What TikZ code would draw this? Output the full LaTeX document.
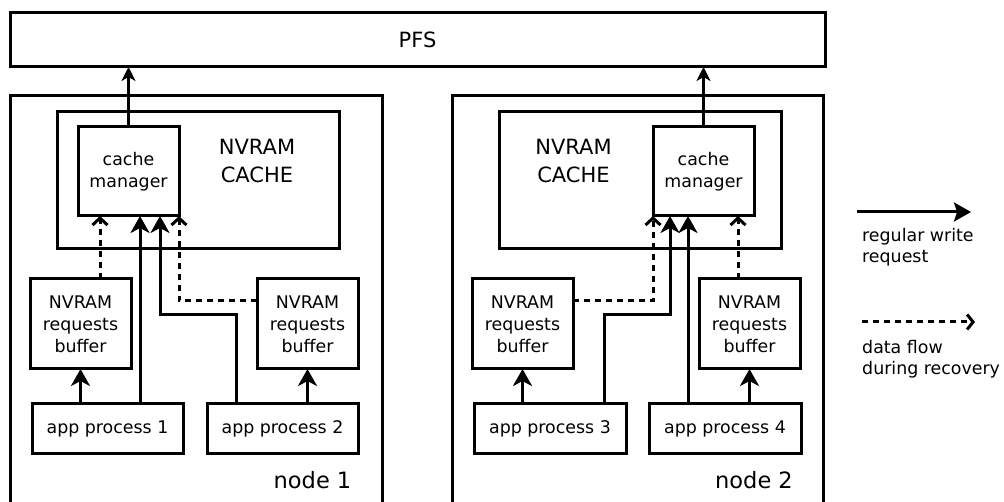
\documentclass[tikz,border=0pt]{standalone}
\usepackage{fontspec}
\setmainfont{DejaVu Sans}
\usetikzlibrary{arrows.meta}
\begin{document}
\begin{tikzpicture}[x=1pt,y=-1pt,
  box/.style={draw,line width=3pt,inner sep=0pt,outer sep=0pt,align=center,
    font=\fontsize{17.4}{22}\selectfont},
  bigbox/.style={draw,line width=3pt,inner sep=0pt,outer sep=0pt},
  solidarr/.style={line width=3pt,-{Stealth[length=17pt,width=19pt,inset=5pt]}},
  pfsarr/.style={line width=3pt,-{Stealth[length=14pt,width=14pt,inset=4pt]}},
  dasharr/.style={line width=3pt,dash pattern=on 6pt off 5pt,-{Straight Barb[length=7pt,width=15pt]}},
  lbl/.style={inner sep=0pt,font=\fontsize{17.4}{21}\selectfont,align=left}
]
\useasboundingbox (0,0) rectangle (1004,502);
\fill[white] (0,0) rectangle (1004,502);

% PFS
\node[box,minimum width=815pt,minimum height=54pt,font=\fontsize{21}{24}\selectfont] (pfs) at (417.5,40) {PFS};

% node frames (bottom edge out of view)
\node[bigbox,minimum width=372pt,minimum height=412pt] (n1) at (196,302) {};
\node[bigbox,minimum width=371pt,minimum height=412pt] (n2) at (637.5,302) {};
\node[inner sep=0pt,font=\fontsize{22.5}{26}\selectfont] (n1lbl) at (312.5,480) {node 1};
\node[inner sep=0pt,font=\fontsize{22.5}{26}\selectfont] (n2lbl) at (754,480) {node 2};

% NVRAM caches
\node[bigbox,minimum width=282pt,minimum height=137pt] (c1) at (198,180.5) {};
\node[bigbox,minimum width=282pt,minimum height=137pt] (c2) at (640,180.5) {};
\node[inner sep=0pt,align=center,font=\fontsize{21}{28}\selectfont] (c1lbl) at (257,161) {NVRAM\\CACHE};
\node[inner sep=0pt,align=center,font=\fontsize{21}{28}\selectfont] (c2lbl) at (573.5,161) {NVRAM\\CACHE};

% cache managers
\node[box,minimum width=101pt,minimum height=89pt] (cm1) at (128.5,171.5) {cache\\manager};
\node[box,minimum width=101pt,minimum height=89pt] (cm2) at (703.5,171.5) {cache\\manager};

% buffers
\node[box,minimum width=101pt,minimum height=90pt] (bl1) at (80.5,324) {NVRAM\\requests\\buffer};
\node[box,minimum width=101pt,minimum height=90pt] (br1) at (307.5,324) {NVRAM\\requests\\buffer};
\node[box,minimum width=101pt,minimum height=90pt] (bl2) at (522.5,324) {NVRAM\\requests\\buffer};
\node[box,minimum width=101pt,minimum height=90pt] (br2) at (749.5,324) {NVRAM\\requests\\buffer};

% app processes
\node[box,minimum width=151pt,minimum height=49pt] (a1) at (107.5,428.5) {app process 1};
\node[box,minimum width=151pt,minimum height=49pt] (a2) at (282.5,428.5) {app process 2};
\node[box,minimum width=152pt,minimum height=49pt] (a3) at (550,428.5) {app process 3};
\node[box,minimum width=152pt,minimum height=49pt] (a4) at (725,428.5) {app process 4};

% helper coordinates
\coordinate (x100) at (100,0);
\coordinate (x140) at (140,0);
\coordinate (x160) at (160,0);
\coordinate (x236) at (236,0);
\coordinate (x604) at (604,0);
\coordinate (x670) at (670,0);
\coordinate (x688) at (688,0);
\coordinate (x738) at (738,0);
\coordinate (y301) at (0,301);
\coordinate (y315) at (0,315);

% node 1 connectors
\draw[pfsarr] (cm1.north) -- (cm1.north |- pfs.south);
\draw[solidarr] (bl1.south |- a1.north) -- (bl1.south);
\draw[solidarr] (br1.south |- a2.north) -- (br1.south);
\draw[solidarr] (a1.north -| x140) -- (cm1.south -| x140);
\draw[solidarr] (a2.north -| x236) |- (y315 -| x160) -- (cm1.south -| x160);
\draw[dasharr] (bl1.north -| x100) -- (cm1.south -| x100);
\draw[dasharr] (br1.west |- y301) -| (cm1.south east);

% node 2 connectors
\draw[pfsarr] (cm2.north) -- (cm2.north |- pfs.south);
\draw[solidarr] (bl2.south |- a3.north) -- (bl2.south);
\draw[solidarr] (br2.south |- a4.north) -- (br2.south);
\draw[solidarr] (a3.north -| x604) |- (y315 -| x670) -- (cm2.south -| x670);
\draw[solidarr] (a4.north -| x688) -- (cm2.south -| x688);
\draw[dasharr] (br2.north -| x738) -- (cm2.south -| x738);
\draw[dasharr] (bl2.east |- y301) -| (cm2.south west);

% legend
\coordinate (l1a) at (857,212);
\coordinate (l1b) at (971,212);
\coordinate (l2a) at (862,322);
\coordinate (l2b) at (975,322);
\draw[line width=3pt,-{Stealth[length=17pt,width=19pt,inset=3pt]}] (l1a) -- (l1b);
\draw[line width=3pt,dash pattern=on 6pt off 5pt,-{Straight Barb[length=6pt,width=15pt]}] (l2a) -- (l2b);
\node[lbl,anchor=north west] (leg1) at (862,228) {regular write\\request};
\node[lbl,anchor=north west] (leg2) at (862,340) {data flow\\during recovery};
\end{tikzpicture}
\end{document}
